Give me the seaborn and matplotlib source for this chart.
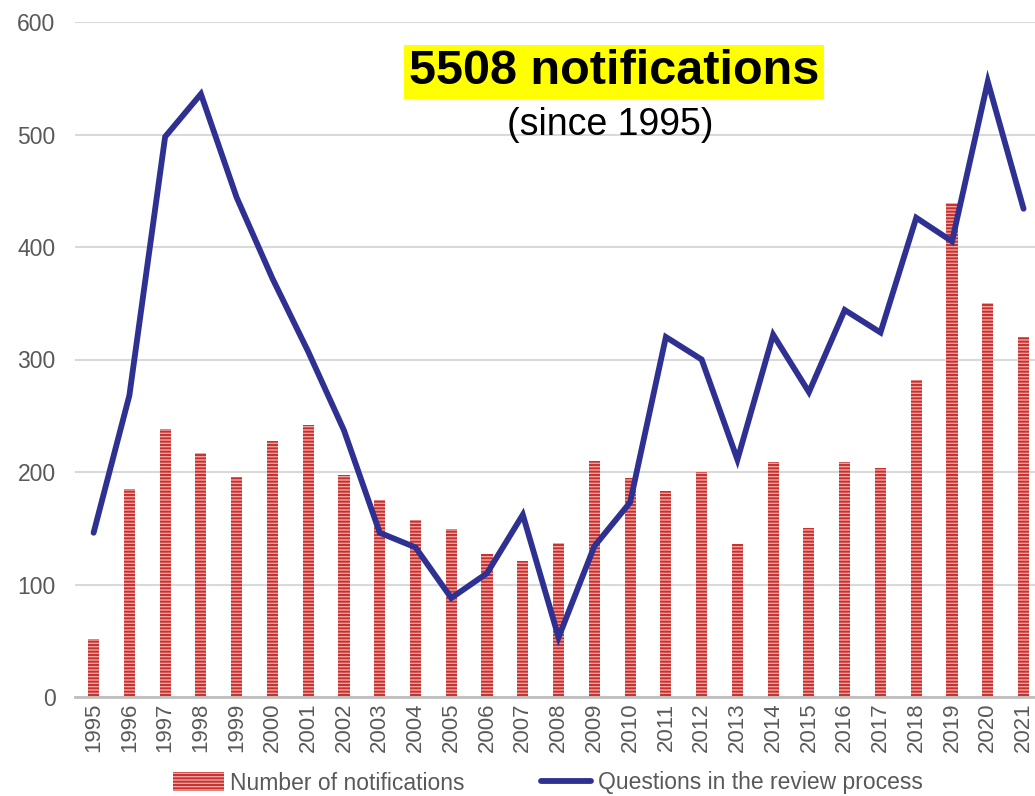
import numpy as np
import pandas as pd
import matplotlib
matplotlib.use("Agg")
import matplotlib.pyplot as plt
import seaborn as sns
from matplotlib.patches import Patch
from matplotlib.lines import Line2D

years = [str(y) for y in range(1995, 2022)]
notifications = [52, 185, 238, 217, 196, 228, 242, 197, 175, 157, 149, 127, 121, 137,
                 210, 195, 183, 200, 136, 209, 150, 209, 204, 282, 439, 350, 320]
questions = [146, 268, 498, 536, 444, 372, 307, 237, 146, 133, 88, 110, 162, 53,
             134, 173, 320, 300, 211, 322, 271, 344, 324, 426, 405, 547, 434]

sns.set_style("white")
plt.rcParams["font.family"] = ["Liberation Sans", "DejaVu Sans"]
plt.rcParams["hatch.linewidth"] = 1.4

bar_light = "#eda5a5"
bar_dark = "#c9302c"
line_col = "#2e3192"
tick_col = "#595959"

df = pd.DataFrame({"year": years, "notifications": notifications, "questions": questions})

fig = plt.figure(figsize=(10.35, 7.96), dpi=100)
ax = fig.add_axes([75 / 1035, 1 - 697 / 796, 1 - 75 / 1035, (697 - 22) / 796])

sns.barplot(data=df, x="year", y="notifications", ax=ax, color=bar_light, saturation=1,
            width=0.31, edgecolor=bar_dark, linewidth=0, hatch="-----", zorder=2)
sns.lineplot(x=np.arange(len(years)), y=df["questions"], ax=ax, color=line_col,
             linewidth=4.2, zorder=3, solid_capstyle="round", solid_joinstyle="miter")

ax.set_xlim(-0.52, 26.32)
ax.set_ylim(0, 600)
ax.set_yticks(range(0, 601, 100))
ax.yaxis.grid(True, color="#d9d9d9", linewidth=1.5, zorder=0)
ax.set_axisbelow(True)
for s in ["top", "right", "left"]:
    ax.spines[s].set_visible(False)
ax.spines["bottom"].set_color("#bfbfbf")
ax.spines["bottom"].set_linewidth(2)
ax.set_xlabel("")
ax.set_ylabel("")
ax.tick_params(axis="y", length=0, pad=14, labelsize=16.5, labelcolor=tick_col)
ax.tick_params(axis="x", length=0, pad=4, labelsize=16, labelcolor=tick_col, rotation=90)

fig.text(614 / 1035, 1 - 72 / 796, "5508 notifications", ha="center", va="center",
         fontsize=35, fontweight="bold", color="black",
         bbox=dict(facecolor="#ffff00", edgecolor="none", pad=3))
fig.text(610 / 1035, 1 - 125 / 796, "(since 1995)", ha="center", va="center",
         fontsize=27, color="black")

handles = [Patch(facecolor=bar_light, edgecolor=bar_dark, linewidth=0, hatch="-----"),
           Line2D([0], [0], color=line_col, linewidth=4.2)]
leg = fig.legend(handles, ["Number of notifications", "Questions in the review process"],
                 loc="center", bbox_to_anchor=(548 / 1035, 1 - 783 / 796), ncol=2,
                 frameon=False, fontsize=16.5, handlelength=2.2, handleheight=0.9,
                 handletextpad=0.3, columnspacing=3.3, borderaxespad=0, borderpad=0)
for t in leg.get_texts():
    t.set_color(tick_col)

fig.savefig("out.png", dpi=100)
